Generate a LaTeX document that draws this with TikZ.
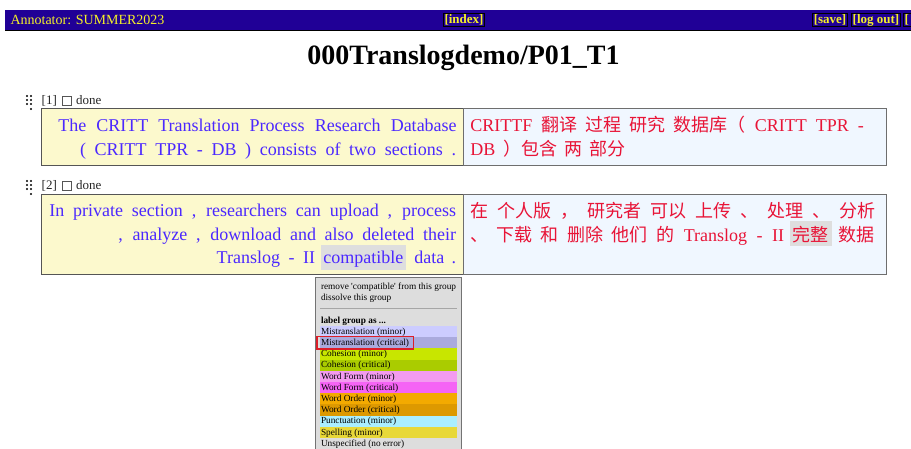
\documentclass[tikz,border=0pt]{standalone}
\usepackage{fontspec}
\setmainfont{Liberation Serif}
\newfontfamily\cjk{Noto Sans CJK SC}
\definecolor{hdrblue}{RGB}{32,0,150}
\definecolor{hdryel}{RGB}{245,240,40}
\definecolor{srcbg}{RGB}{252,249,205}
\definecolor{tgtbg}{RGB}{240,247,255}
\definecolor{srcfg}{RGB}{75,40,255}
\definecolor{tgtfg}{RGB}{232,20,55}
\definecolor{hlgray}{RGB}{222,222,222}
\definecolor{menubg}{RGB}{221,221,221}
\definecolor{boxline}{RGB}{85,85,85}
\definecolor{mtmin}{RGB}{204,204,255}
\definecolor{mtcri}{RGB}{170,170,221}
\definecolor{comin}{RGB}{200,230,0}
\definecolor{cocri}{RGB}{170,204,0}
\definecolor{wfmin}{RGB}{243,155,240}
\definecolor{wfcri}{RGB}{245,100,245}
\definecolor{womin}{RGB}{243,170,0}
\definecolor{wocri}{RGB}{221,153,0}
\definecolor{pumin}{RGB}{170,238,255}
\definecolor{spmin}{RGB}{232,216,56}
\definecolor{selred}{RGB}{220,30,40}
\begin{document}
\begin{tikzpicture}[x=1pt,y=-1pt,
  every node/.style={inner sep=0pt,outer sep=0pt},
  hdrtxt/.style={text=hdryel, font=\fontsize{14}{14}\selectfont, anchor=base west},
  hbtn/.style={draw=black, line width=0.6pt, text=hdryel, font=\bfseries\fontsize{13}{13}\selectfont, inner xsep=1.2pt, inner ysep=1pt, text height=9pt, text depth=2.5pt},
  titletxt/.style={font=\bfseries\fontsize{28}{28}\selectfont, anchor=base},
  idx/.style={text=black!85, font=\fontsize{13}{13}\selectfont, anchor=base west},
  chk/.style={draw=boxline, line width=0.8pt, minimum size=9pt},
  srcbox/.style={draw=boxline, fill=srcbg, line width=1pt},
  tgtbox/.style={draw=boxline!85, fill=tgtbg, line width=1pt},
  src/.style={text=srcfg, font=\fontsize{18}{18}\selectfont, anchor=base east},
  tgt/.style={text=tgtfg, font=\fontsize{18}{18}\selectfont, anchor=base west},
  mtxt/.style={font=\fontsize{9.3}{9.3}\selectfont, anchor=base west},
  mrow/.style={minimum width=136.7pt, minimum height=11.2pt, anchor=north west},
]
\useasboundingbox (0,0) rectangle (911,448);
\fill[white] (0,0) rectangle (911,448);
% header
\fill[hdrblue] (5,10) rectangle (911,30.5);
\draw[black, line width=1.2pt] (5,30.6) -- (911,30.6);
\node[hdrtxt] (ann) at (10.5,24.6) {Annotator: SUMMER2023};
\node[hbtn] (index) at (464,20) {[index]};
\node[hbtn] (save) at (830,20) {[save]};
\node[hbtn] (logout) at (876,20) {[log out]};
\node[hbtn, anchor=west] (more) at (903.3,20) {[\phantom{help]}};
% title
\node[titletxt] (title) at (463.5,64) {000Translogdemo/P01\_T1};
% grip dots
\foreach \yy in {96,181}{
  \foreach \dx/\dy in {27/0,31/0,27/4,31/4,27/8,31/8,31/13}
    \fill ({\dx},{\yy+\dy}) circle (1.1pt);
}
% row labels
\node[idx] (n1) at (41.7,104) {[1]};
\node[chk] (c1) at (67,100.8) {};
\node[idx] (d1) at (76,104) {done};
\node[idx] (n2) at (41.7,189) {[2]};
\node[chk] (c2) at (67,186.2) {};
\node[idx] (d2) at (76,189) {done};
% boxes
\path[srcbox] (41,108.3) rectangle (463.5,165.7);
\path[tgtbox] (463.5,108.3) rectangle (886.5,165.7);
\path[srcbox] (41,194) rectangle (463.5,274.3);
\path[tgtbox] (463.5,194) rectangle (886.5,274.3);
% row 1 texts
\node[src] (s1a) at (456.7,131.7) {\makebox[398.4pt][s]{The CRITT Translation Process Research Database}};
\node[src] (s1b) at (456,155) {\makebox[376pt][s]{( CRITT TPR - DB ) consists of two sections .}};
\node[tgt] (t1a) at (470.3,131.7) {\makebox[393.7pt][s]{CRITTF {\cjk 翻译 过程 研究 数据库（} CRITT TPR -}};
\node[tgt] (t1b) at (470.3,155) {\makebox[155pt][s]{DB {\cjk ）包含 两 部分}}};
% row 2 texts
\node[src] (s2a) at (456,216.7) {\makebox[406.7pt][s]{In private section , researchers can upload , process}};
\node[src] (s2b) at (456,240) {\makebox[337.7pt][s]{, analyze , download and also deleted their}};
\node[src, anchor=base west] (s2c) at (216.7,263.3) {\makebox[98.3pt][s]{Translog - II}};
\node[src, anchor=base west, fill=hlgray, inner xsep=2.6pt, text height=18.3pt, text depth=6.7pt] (s2d) at (320.7,263.3) {compatible};
\node[src] (s2e) at (456,263.3) {\makebox[41.7pt][s]{data .}};
\node[tgt] (t2a) at (470,217.8) {\makebox[406pt][s]{\cjk 在 个人版 ， 研究者 可以 上传 、 处理 、 分析}};
\node[tgt] (t2b) at (470,241) {\makebox[314pt][s]{{\cjk 、 下载 和 删除 他们 的} Translog - II}};
\node[tgt, fill=hlgray, inner xsep=2.8pt, text height=20.3pt, text depth=5pt] (t2c) at (790,241) {\cjk 完整};
\node[tgt, anchor=base east] (t2d) at (874,241) {\cjk 数据};
% popup menu
\path[draw=black!55, fill=menubg, line width=1pt] (315,277) rectangle (461.5,449);
\node[mtxt] (rm) at (321,289.5) {remove \textquotesingle compatible\textquotesingle\ from this group};
\node[mtxt] (ds) at (321,300.5) {dissolve this group};
\draw[black!35, line width=0.8pt] (320,308.3) -- (456.5,308.3);
\node[mtxt, font=\bfseries\fontsize{9.3}{9.3}\selectfont] (lg) at (321,323.5) {label group as ...};
\foreach \c/\t [count=\i from 0] in {mtmin/Mistranslation (minor), mtcri/Mistranslation (critical), comin/Cohesion (minor), cocri/Cohesion (critical), wfmin/Word Form (minor), wfcri/Word Form (critical), womin/Word Order (minor), wocri/Word Order (critical), pumin/Punctuation (minor), spmin/Spelling (minor), menubg/Unspecified (no error)}{
  \node[mrow, fill=\c] (row\i) at (320,{326+11.2*\i}) {};
  \node[mtxt] (rowt\i) at (321,{334.2+11.2*\i}) {\t};
}
\draw[selred, line width=1.8pt] (317.3,336.4) rectangle (413.5,348.6);
\end{tikzpicture}
\end{document}
